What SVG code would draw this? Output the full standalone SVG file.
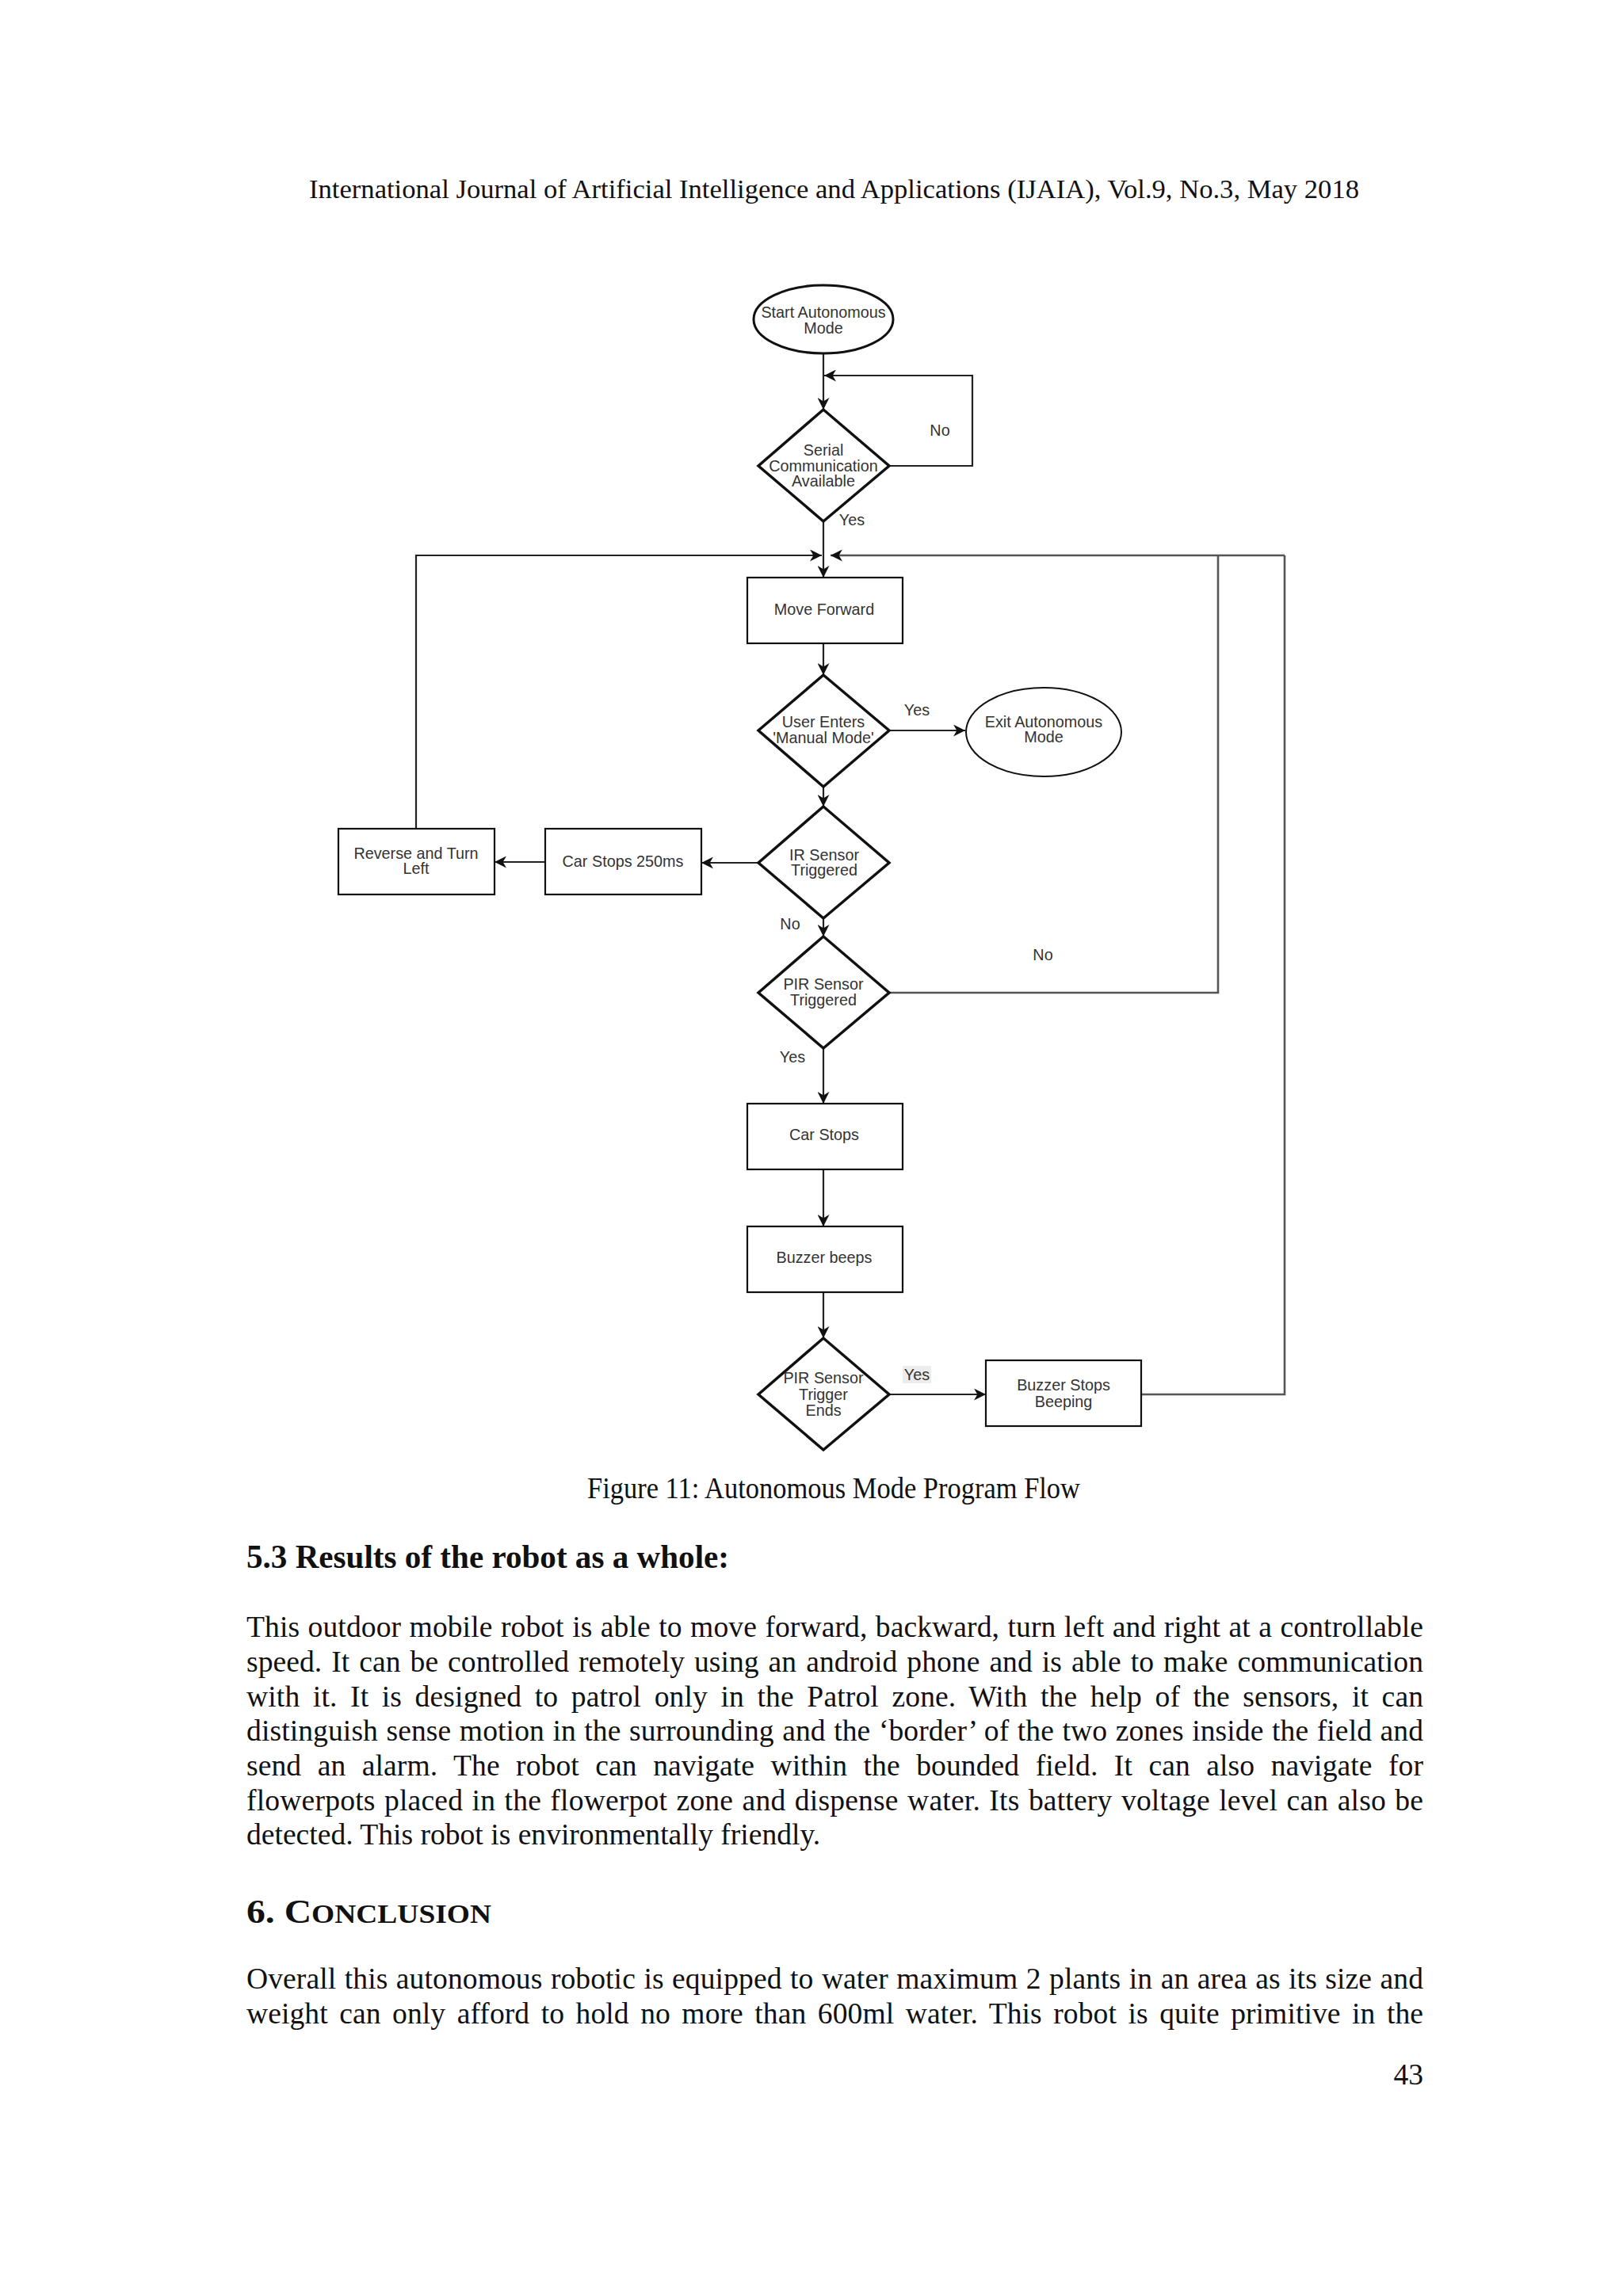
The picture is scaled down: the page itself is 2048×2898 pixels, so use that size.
<svg xmlns="http://www.w3.org/2000/svg" width="2048" height="2898" viewBox="0 0 2048 2898">
<style>
.pg{font-family:"Liberation Serif","Times New Roman",serif;fill:#111}
.bd{font-size:37.6px}
.lb{font-family:"Liberation Sans",Arial,sans-serif;font-size:19.8px;fill:#333;text-anchor:middle}
.nd{fill:#fff;stroke:#111}
.dia{stroke-width:3.5}
.box{stroke-width:2.2}
.cn{fill:none;stroke:#222;stroke-width:2.2}
.cg{fill:none;stroke:#555;stroke-width:2.6}
</style>
<defs>
<marker id="ah" viewBox="0 0 12 12" markerUnits="userSpaceOnUse" markerWidth="15" markerHeight="15" refX="12" refY="6" orient="auto">
<path d="M0,0 L12,6 L0,12 L3.5,6 Z" fill="#111"/>
</marker>
</defs>
<rect width="2048" height="2898" fill="#fff"/>

<text class="pg" x="390" y="250" font-size="34" textLength="1325" lengthAdjust="spacingAndGlyphs">International Journal of Artificial Intelligence and Applications (IJAIA), Vol.9, No.3, May 2018</text>

<g id="connectors">
<path class="cn" d="M1039,446 V517" marker-end="url(#ah)"/>
<path class="cn" d="M1122,588 H1227 V474 H1040" marker-end="url(#ah)"/>
<path class="cn" d="M1039,658 V729" marker-end="url(#ah)"/>
<path class="cn" d="M525,1046 V701 H1037" marker-end="url(#ah)"/>
<path class="cg" d="M1621,701 H1048" marker-end="url(#ah)"/>
<path class="cg" d="M1122,1253 H1537 V701"/>
<path class="cg" d="M1439,1760 H1621 V701"/>
<path class="cn" d="M1039,812 V852" marker-end="url(#ah)"/>
<path class="cn" d="M1122,922 H1218" marker-end="url(#ah)"/>
<path class="cn" d="M1039,993 V1018" marker-end="url(#ah)"/>
<path class="cn" d="M957,1089 H885" marker-end="url(#ah)"/>
<path class="cn" d="M688,1088 H624" marker-end="url(#ah)"/>
<path class="cn" d="M1039,1159 V1182" marker-end="url(#ah)"/>
<path class="cn" d="M1039,1323 V1393" marker-end="url(#ah)"/>
<path class="cn" d="M1039,1476 V1548" marker-end="url(#ah)"/>
<path class="cn" d="M1039,1631 V1689" marker-end="url(#ah)"/>
<path class="cn" d="M1122,1760 H1244" marker-end="url(#ah)"/>
</g>

<g id="edge-labels">
<text class="lb" x="1186" y="550">No</text>
<text class="lb" x="1075" y="663">Yes</text>
<text class="lb" x="1157" y="903">Yes</text>
<text class="lb" x="997" y="1173">No</text>
<text class="lb" x="1316" y="1212">No</text>
<text class="lb" x="1000" y="1341">Yes</text>
<rect x="1139" y="1724" width="36" height="22" fill="#ececec"/>
<text class="lb" x="1157" y="1742">Yes</text>
</g>

<g id="start">
<ellipse class="nd" cx="1039" cy="403" rx="88" ry="43" stroke-width="3"/>
<text class="lb" x="1039" y="401">Start Autonomous</text>
<text class="lb" x="1039" y="421">Mode</text>
</g>
<g id="serial">
<polygon class="nd dia" points="1039,517 1122,588 1039,658 957,588"/>
<text class="lb" x="1039" y="575">Serial</text>
<text class="lb" x="1039" y="595">Communication</text>
<text class="lb" x="1039" y="614">Available</text>
</g>
<g id="move-forward">
<rect class="nd box" x="943" y="729" width="196" height="83"/>
<text class="lb" x="1040" y="776">Move Forward</text>
</g>
<g id="user-enters">
<polygon class="nd dia" points="1039,852 1122,922 1039,993 957,922"/>
<text class="lb" x="1039" y="918">User Enters</text>
<text class="lb" x="1039" y="938">'Manual Mode'</text>
</g>
<g id="exit">
<ellipse class="nd" cx="1317" cy="924" rx="98" ry="56" stroke-width="2"/>
<text class="lb" x="1317" y="918">Exit Autonomous</text>
<text class="lb" x="1317" y="937">Mode</text>
</g>
<g id="ir-sensor">
<polygon class="nd dia" points="1039,1018 1122,1089 1039,1159 957,1089"/>
<text class="lb" x="1040" y="1086">IR Sensor</text>
<text class="lb" x="1040" y="1105">Triggered</text>
</g>
<g id="car-stops-250">
<rect class="nd box" x="688" y="1046" width="197" height="83"/>
<text class="lb" x="786" y="1094">Car Stops 250ms</text>
</g>
<g id="reverse">
<rect class="nd box" x="427" y="1046" width="197" height="83"/>
<text class="lb" x="525" y="1084">Reverse and Turn</text>
<text class="lb" x="525" y="1103">Left</text>
</g>
<g id="pir-sensor">
<polygon class="nd dia" points="1039,1182 1122,1253 1039,1323 957,1253"/>
<text class="lb" x="1039" y="1249">PIR Sensor</text>
<text class="lb" x="1039" y="1269">Triggered</text>
</g>
<g id="car-stops">
<rect class="nd box" x="943" y="1393" width="196" height="83"/>
<text class="lb" x="1040" y="1439">Car Stops</text>
</g>
<g id="buzzer-beeps">
<rect class="nd box" x="943" y="1548" width="196" height="83"/>
<text class="lb" x="1040" y="1594">Buzzer beeps</text>
</g>
<g id="pir-ends">
<polygon class="nd dia" points="1039,1689 1122,1760 1039,1830 957,1760"/>
<text class="lb" x="1039" y="1746">PIR Sensor</text>
<text class="lb" x="1039" y="1767">Trigger</text>
<text class="lb" x="1039" y="1787">Ends</text>
</g>
<g id="buzzer-stops">
<rect class="nd box" x="1244" y="1717" width="196" height="83"/>
<text class="lb" x="1342" y="1755">Buzzer Stops</text>
<text class="lb" x="1342" y="1776">Beeping</text>
</g>

<text class="pg" x="741" y="1891" font-size="37" textLength="622" lengthAdjust="spacingAndGlyphs">Figure 11: Autonomous Mode Program Flow</text>

<text class="pg" x="311" y="1979" font-size="42" font-weight="bold" textLength="609" lengthAdjust="spacingAndGlyphs">5.3 Results of the robot as a whole:</text>

<g class="pg bd">
<text x="311" y="2066" word-spacing="1" textLength="1485" lengthAdjust="spacing">This outdoor mobile robot is able to move forward, backward, turn left and right at a controllable</text>
<text x="311" y="2110" word-spacing="2.5" textLength="1485" lengthAdjust="spacing">speed. It can be controlled remotely using an android phone and is able to make communication</text>
<text x="311" y="2154" word-spacing="7" textLength="1485" lengthAdjust="spacing">with it. It is designed to patrol only in the Patrol zone. With the help of the sensors, it can</text>
<text x="311" y="2197" word-spacing="1" textLength="1485" lengthAdjust="spacing">distinguish sense motion in the surrounding and the ‘border’ of the two zones inside the field and</text>
<text x="311" y="2241" word-spacing="11" textLength="1485" lengthAdjust="spacing">send an alarm. The robot can navigate within the bounded field. It can also navigate for</text>
<text x="311" y="2285" word-spacing="1.8" textLength="1485" lengthAdjust="spacing">flowerpots placed in the flowerpot zone and dispense water. Its battery voltage level can also be</text>
<text x="311" y="2328">detected. This robot is environmentally friendly.</text>
</g>

<text class="pg" x="311" y="2427" font-size="42" font-weight="bold" textLength="309" lengthAdjust="spacingAndGlyphs">6. C<tspan font-size="33">ONCLUSION</tspan></text>

<g class="pg bd">
<text x="311" y="2510" word-spacing="1" textLength="1485" lengthAdjust="spacing">Overall this autonomous robotic is equipped to water maximum 2 plants in an area as its size and</text>
<text x="311" y="2554" word-spacing="5" textLength="1485" lengthAdjust="spacing">weight can only afford to hold no more than 600ml water. This robot is quite primitive in the</text>
</g>

<text class="pg bd" x="1796" y="2631" text-anchor="end">43</text>
</svg>
